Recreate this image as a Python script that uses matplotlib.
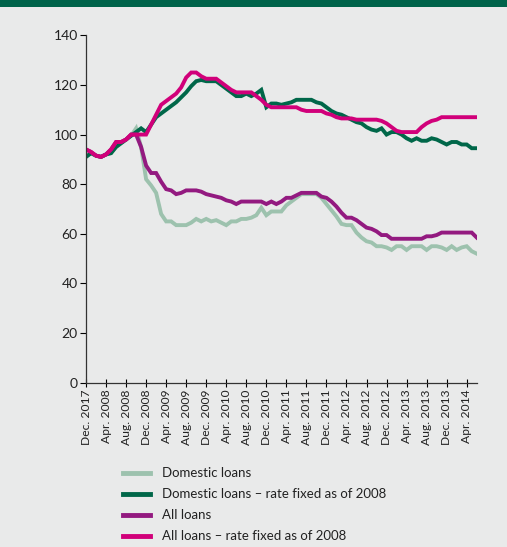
#Loan index chart, monthly, Dec 2007 - Jun 2014

import matplotlib
matplotlib.use("Agg")
import matplotlib.pyplot as plt
from matplotlib.patches import Rectangle
import numpy as np

tick_labels = ["Dec. 2017", "Apr. 2008", "Aug. 2008", "Dec. 2008", "Apr. 2009",
               "Aug. 2009", "Dec. 2009", "Apr. 2010", "Aug. 2010", "Dec. 2010",
               "Apr. 2011", "Aug. 2011", "Dec. 2011", "Apr. 2012", "Aug. 2012",
               "Dec. 2012", "Apr. 2013", "Aug. 2013", "Dec. 2013", "Apr. 2014"]

domestic = [91, 92.5, 91.5, 91, 92, 92.5, 95, 96.5, 98, 99.5,
            102.5, 95, 82, 79.5, 76.5, 68, 65, 65, 63.5, 63.5,
            63.5, 64.5, 66, 65, 66, 65, 65.5, 64.5, 63.5, 65,
            65, 66, 66, 66.5, 67.5, 70.5, 67.5, 69, 69, 69,
            71.5, 73, 74.5, 76, 76, 76, 76, 74.5, 72, 69.5,
            67, 64, 63.5, 63.5, 60.5, 58.5, 57, 56.5, 55, 55,
            54.5, 53.5, 55, 55, 53.5, 55, 55, 55, 53.5, 55,
            55, 54.5, 53.5, 55, 53.5, 54.5, 55, 53, 52]

domestic_fixed = [91, 92.5, 91.5, 91, 92, 92.5, 95, 96.5, 98, 99.5,
                  101, 102.5, 101, 104, 107, 108.5, 110, 111.5, 113, 115,
                  117, 119.5, 121.5, 122, 121.5, 121.5, 121.5, 120, 118.5, 117,
                  115.5, 115.5, 116.5, 115.5, 116.5, 118, 111, 112.5, 112.5, 112,
                  112.5, 113, 114, 114, 114, 114, 113, 112.5, 111, 109.5,
                  108.5, 108, 107, 106, 105, 104.5, 103, 102, 101.5, 102.5,
                  100, 101, 101, 100, 98.5, 97.5, 98.5, 97.5, 97.5, 98.5,
                  98, 97, 96, 97, 97, 96, 96, 94.5, 94.5]

all_loans = [94, 93, 91.5, 91, 92, 94, 97, 97, 98, 100,
             100, 95, 87.5, 84.5, 84.5, 81, 78, 77.5, 76, 76.5,
             77.5, 77.5, 77.5, 77, 76, 75.5, 75, 74.5, 73.5, 73,
             72, 73, 73, 73, 73, 73, 72, 73, 72, 73,
             74.5, 74.5, 75.5, 76.5, 76.5, 76.5, 76.5, 75, 74.5, 73,
             71, 68.5, 66.5, 66.5, 65.5, 64, 62.5, 62, 61, 59.5,
             59.5, 58, 58, 58, 58, 58, 58, 58, 59, 59,
             59.5, 60.5, 60.5, 60.5, 60.5, 60.5, 60.5, 60.5, 58.5]

all_fixed = [94, 93, 91.5, 91, 92, 94, 97, 97, 98, 100,
             100, 100, 100, 104, 108, 112, 113.5, 115, 116.5, 119,
             123, 125, 125, 123.5, 122.5, 122.5, 122.5, 121, 119.5, 118,
             117, 117, 117, 117, 115.5, 114, 112, 111, 111, 111,
             111, 111, 111, 110, 109.5, 109.5, 109.5, 109.5, 108.5, 108,
             107, 106.5, 106.5, 106.5, 106, 106, 106, 106, 106, 105.5,
             104.5, 103, 101.5, 101, 101, 101, 101, 103, 104.5, 105.5,
             106, 107, 107, 107, 107, 107, 107, 107, 107]

series_names = ["Domestic loans", "Domestic loans \u2013 rate fixed as of 2008",
                "All loans", "All loans \u2013 rate fixed as of 2008"]
colors = ["#9dc2ae", "#006749", "#931a80", "#d1007a"]

bg = "#e9eaea"
plt.rcParams["font.family"] = ["Lato", "DejaVu Sans"]

fig = plt.figure(figsize=(5.07, 5.47), dpi=100, facecolor=bg)
fig.patches.append(Rectangle((0, 1 - 7 / 547), 1, 7 / 547, transform=fig.transFigure,
                             facecolor="#00634a", edgecolor="none"))
ax = fig.add_axes([86 / 507, 1 - 382.7 / 547, 390.7 / 507, 347.4 / 547])
ax.set_facecolor(bg)

months = np.arange(len(domestic))
for vals, name, c in zip([domestic, domestic_fixed, all_loans, all_fixed], series_names, colors):
    ax.plot(months, vals, color=c, lw=2.8, label=name, solid_joinstyle="miter")

ax.set_xlim(0, 78)
ax.set_ylim(0, 140)
ax.set_yticks(np.arange(0, 141, 20))
ax.set_xticks(np.arange(0, 77, 4))
ax.set_xticklabels(tick_labels, rotation=90, fontsize=8.7, color="#222222")
ax.tick_params(axis="y", direction="out", length=4, width=0.8, labelsize=10,
               labelcolor="#222222", pad=2)
ax.tick_params(axis="x", direction="inout", length=6, width=0.8, pad=2)
for s in ["top", "right"]:
    ax.spines[s].set_visible(False)
for s in ["left", "bottom"]:
    ax.spines[s].set_color("#333333")
    ax.spines[s].set_linewidth(0.9)

handles, labels = ax.get_legend_handles_labels()
leg = fig.legend(handles, labels, loc="upper left", bbox_to_anchor=(118 / 507, 1 - 462 / 547),
                 frameon=False, fontsize=9.5, handlelength=2.0, handletextpad=0.9,
                 labelspacing=0.68, borderaxespad=0)
for line in leg.get_lines():
    line.set_linewidth(3.5)
for t in leg.get_texts():
    t.set_color("#222222")

plt.savefig("out.png", dpi=100, facecolor=bg)
